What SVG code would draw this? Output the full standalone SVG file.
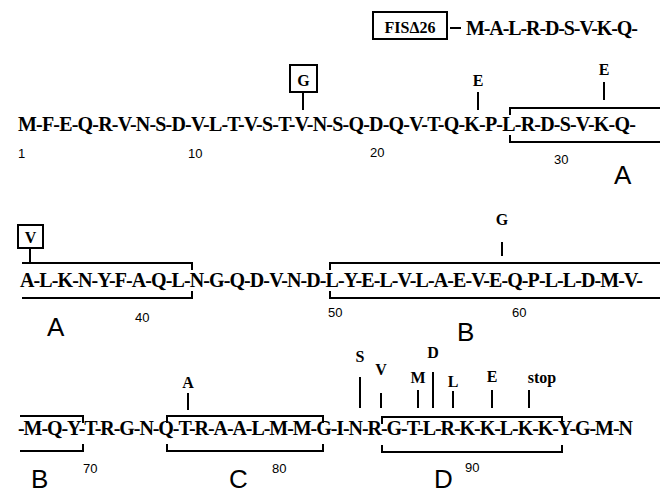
<svg xmlns="http://www.w3.org/2000/svg" width="664" height="494" viewBox="0 0 664 494">
<style>
.seq{font-family:"Liberation Serif","Times New Roman",serif;font-weight:bold;font-size:20px;fill:#000}
.mut{font-family:"Liberation Serif","Times New Roman",serif;font-weight:bold;font-size:16px;fill:#000;text-anchor:middle}
.num{font-family:"Liberation Sans",Arial,sans-serif;font-size:13px;fill:#000}
.big{font-family:"Liberation Sans",Arial,sans-serif;font-size:26px;fill:#000}
.ln{stroke:#000;stroke-width:2;fill:none}
.box{stroke:#000;stroke-width:2;fill:#fff}
</style>
<rect width="664" height="494" fill="#fff"/>
<g id="fis26">
<rect class="box" x="373" y="12" width="74" height="27"/>
<text class="mut" x="410" y="33" font-size="17">FISΔ26</text>
<line class="ln" x1="450" y1="28" x2="461" y2="28"/>
<text class="seq" x="466" y="35" letter-spacing="-1.1">M-A-L-R-D-S-V-K-Q-</text>
</g>
<g id="row1">
<text class="seq" x="18" y="131" letter-spacing="-0.8">M-F-E-Q-R-V-N-S-D-V-L-T-V-S-T-V-N-S-Q-D-Q-V-T-Q-K-P-L-R-D-S-V-K-Q-</text>
<text class="num" x="18" y="158">1</text>
<text class="num" x="188" y="158">10</text>
<text class="num" x="370" y="157">20</text>
<text class="num" x="554" y="164">30</text>
<text class="big" x="614" y="184">A</text>
</g>
<g id="row2">
<text class="seq" x="20" y="287" letter-spacing="-0.9">A-L-K-N-Y-F-A-Q-L-N-G-Q-D-V-N-D-L-Y-E-L-V-L-A-E-V-E-Q-P-L-L-D-M-V-</text>
<text class="num" x="135" y="322">40</text>
<text class="num" x="328" y="317">50</text>
<text class="num" x="512" y="317">60</text>
<text class="big" x="47" y="336">A</text>
<text class="big" x="457" y="341">B</text>
</g>
<g id="row3">
<text class="seq" x="18" y="435" letter-spacing="-1.06">-M-Q-Y-T-R-G-N-Q-T-R-A-A-L-M-M-G-I-N-R-G-T-L-R-K-K-L-K-K-Y-G-M-N</text>
<text class="num" x="83" y="473">70</text>
<text class="num" x="272" y="473">80</text>
<text class="num" x="465" y="472">90</text>
<text class="big" x="31" y="488">B</text>
<text class="big" x="229" y="488">C</text>
<text class="big" x="434" y="488">D</text>
</g>
<g id="domains">
<path class="ln" d="M510 115 V108 H660 M510 135 V142 H660"/>
<path class="ln" d="M22 263 H192 V270 M22 298 H192 V291"/>
<path class="ln" d="M330 270 V263 H660 M330 291 V298 H660"/>
<path class="ln" d="M20 416 H83 V423 M20 451 H83 V444"/>
<path class="ln" d="M167 423 V416 H323 V423 M167 444 V451 H323 V444"/>
<path class="ln" d="M382 424 V417 H562 V424 M382 445 V452 H562 V445"/>
</g>
<g id="mutations">
<rect class="box" x="290" y="65" width="27" height="27"/>
<text class="mut" x="303.5" y="86" font-size="18">G</text>
<line class="ln" x1="303" y1="92" x2="303" y2="110"/>
<text class="mut" x="478" y="86">E</text>
<line class="ln" x1="478" y1="92" x2="478" y2="110"/>
<text class="mut" x="604" y="75">E</text>
<line class="ln" x1="604" y1="82" x2="604" y2="100"/>
<rect class="box" x="18" y="225" width="25" height="23"/>
<text class="mut" x="30.5" y="243" font-size="17">V</text>
<line class="ln" x1="30" y1="248" x2="30" y2="263"/>
<text class="mut" x="502" y="225" font-size="17">G</text>
<line class="ln" x1="502" y1="242" x2="502" y2="256"/>
<text class="mut" x="188" y="388" font-size="14">A</text>
<line class="ln" x1="188" y1="393" x2="188" y2="410"/>
<text class="mut" x="360" y="362">S</text>
<line class="ln" x1="360" y1="377" x2="360" y2="408"/>
<text class="mut" x="381" y="375">V</text>
<line class="ln" x1="381" y1="393" x2="381" y2="408"/>
<text class="mut" x="433" y="358">D</text>
<line class="ln" x1="433" y1="372" x2="433" y2="408"/>
<text class="mut" x="418" y="383">M</text>
<line class="ln" x1="418" y1="390" x2="418" y2="408"/>
<text class="mut" x="453" y="387">L</text>
<line class="ln" x1="453" y1="391" x2="453" y2="408"/>
<text class="mut" x="492" y="382">E</text>
<line class="ln" x1="492" y1="390" x2="492" y2="408"/>
<text class="mut" x="542" y="383">stop</text>
<line class="ln" x1="529" y1="390" x2="529" y2="408"/>
</g>
</svg>
